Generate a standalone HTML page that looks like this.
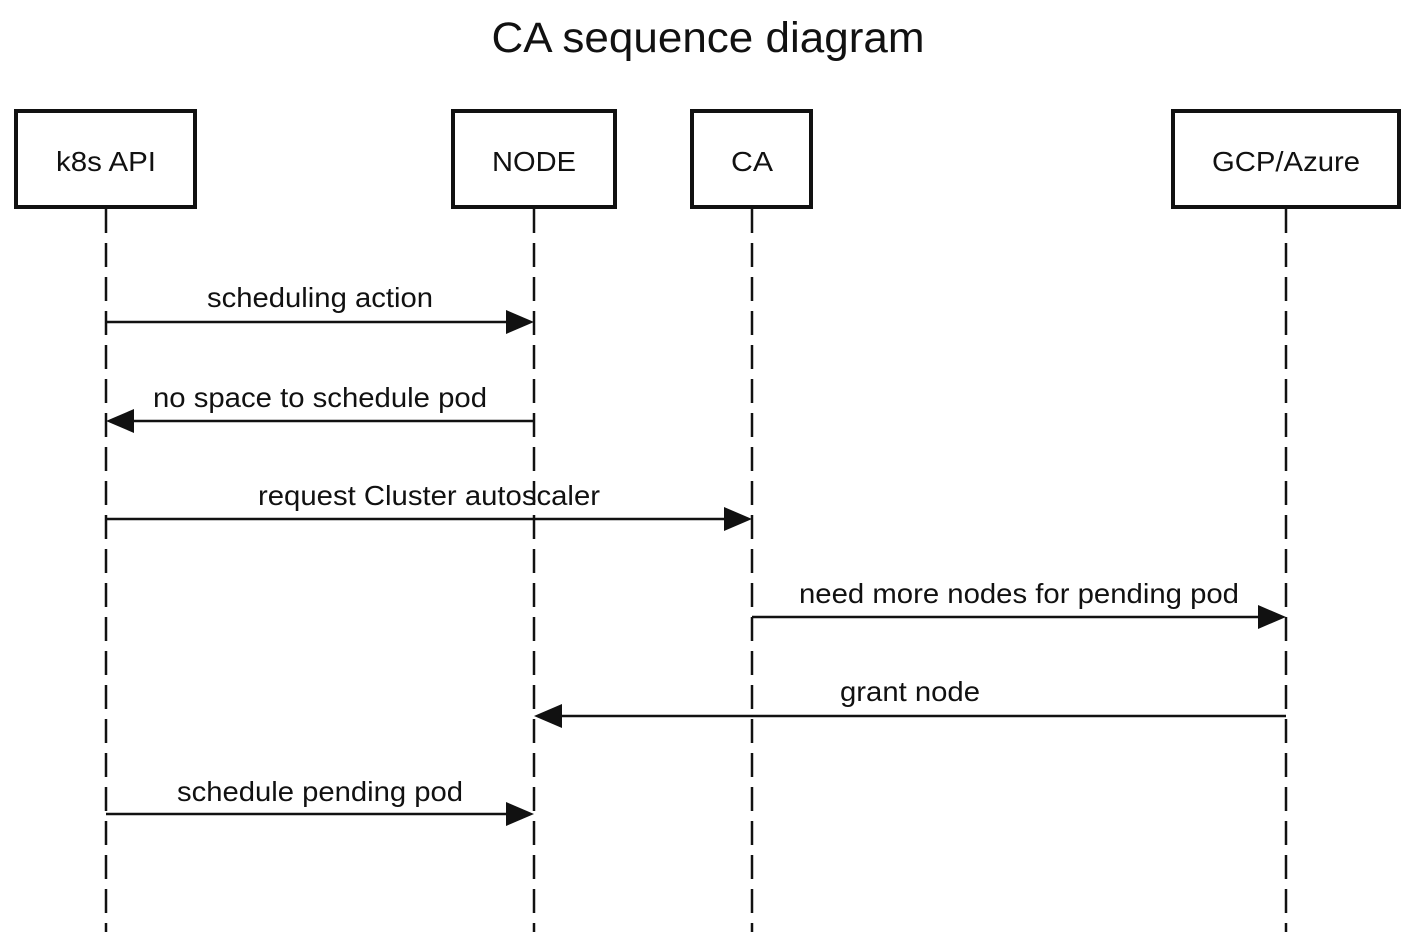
<!DOCTYPE html>
<html><head><meta charset="utf-8"><style>
html,body{margin:0;padding:0;background:#fff;}
svg{display:block;font-family:"Liberation Sans",Arial,sans-serif;}
</style></head><body>
<svg width="1420" height="938" viewBox="0 0 1420 938">
<text x="708" y="52" font-size="43" text-anchor="middle" fill="#111" textLength="433" lengthAdjust="spacingAndGlyphs">CA sequence diagram</text>
<g fill="#fff" stroke="#111" stroke-width="4">
<rect x="16" y="111" width="179" height="96"/>
<rect x="453" y="111" width="162" height="96"/>
<rect x="692" y="111" width="119" height="96"/>
<rect x="1173" y="111" width="226" height="96"/>
</g>
<g font-size="28" text-anchor="middle" fill="#111" lengthAdjust="spacingAndGlyphs">
<text x="106" y="171" textLength="100" lengthAdjust="spacingAndGlyphs">k8s API</text>
<text x="534" y="171" textLength="84" lengthAdjust="spacingAndGlyphs">NODE</text>
<text x="752" y="171" textLength="42" lengthAdjust="spacingAndGlyphs">CA</text>
<text x="1286" y="171" textLength="148" lengthAdjust="spacingAndGlyphs">GCP/Azure</text>
</g>
<g stroke="#111" stroke-width="2.5" stroke-dasharray="24 10">
<line x1="106" y1="209" x2="106" y2="932"/>
<line x1="534" y1="209" x2="534" y2="932"/>
<line x1="752" y1="209" x2="752" y2="932"/>
<line x1="1286" y1="209" x2="1286" y2="932"/>
</g>
<g stroke="#111" stroke-width="2.5">
<line x1="106" y1="322" x2="510" y2="322"/>
<line x1="132" y1="421" x2="534" y2="421"/>
<line x1="106" y1="519" x2="728" y2="519"/>
<line x1="752" y1="617" x2="1262" y2="617"/>
<line x1="560" y1="716" x2="1286" y2="716"/>
<line x1="106" y1="814" x2="510" y2="814"/>
</g>
<g fill="#111">
<polygon points="506,310 534,322 506,334"/>
<polygon points="134,409 106,421 134,433"/>
<polygon points="724,507 752,519 724,531"/>
<polygon points="1258,605 1286,617 1258,629"/>
<polygon points="562,704 534,716 562,728"/>
<polygon points="506,802 534,814 506,826"/>
</g>
<g font-size="28" text-anchor="middle" fill="#111">
<text x="320" y="307" textLength="226" lengthAdjust="spacingAndGlyphs">scheduling action</text>
<text x="320" y="407" textLength="334" lengthAdjust="spacingAndGlyphs">no space to schedule pod</text>
<text x="429" y="505" textLength="342" lengthAdjust="spacingAndGlyphs">request Cluster autoscaler</text>
<text x="1019" y="603" textLength="440" lengthAdjust="spacingAndGlyphs">need more nodes for pending pod</text>
<text x="910" y="701" textLength="140" lengthAdjust="spacingAndGlyphs">grant node</text>
<text x="320" y="801" textLength="286" lengthAdjust="spacingAndGlyphs">schedule pending pod</text>
</g>
</svg>
</body></html>
